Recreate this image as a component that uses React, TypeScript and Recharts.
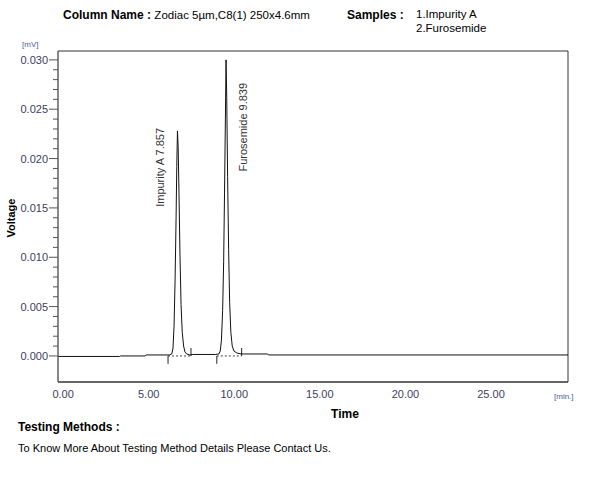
import {
  LineChart,
  Line,
  XAxis,
  YAxis,
  ReferenceLine,
  ReferenceArea,
  ReferenceDot,
} from "recharts";

const FONT = '"Liberation Sans", Arial, sans-serif';
const TICK_COLOR = "#404060";
const UNIT_COLOR = "#4a5a9a";

// axis ranges read from the frame
const X_MIN = -0.3;
const X_MAX = 29.5;
const Y_MIN = -0.00264;
const Y_MAX = 0.0309;

const X_TICKS = [0, 5, 10, 15, 20, 25];
const Y_MAJOR = [0, 0.005, 0.01, 0.015, 0.02, 0.025, 0.03];
const Y_MINOR = [
  0.001, 0.002, 0.003, 0.004, 0.006, 0.007, 0.008, 0.009, 0.011, 0.012,
  0.013, 0.014, 0.016, 0.017, 0.018, 0.019, 0.021, 0.022, 0.023, 0.024,
  0.026, 0.027, 0.028, 0.029,
];

// chromatogram trace, minutes / mV
const TIME_MIN = [
  -0.3, 3.3, 3.35, 4.8, 4.85, 6.2, 6.35, 6.42, 6.48, 6.54, 6.6, 6.64, 6.68,
  6.72, 6.77, 6.83, 6.89, 6.96, 7.04, 7.12, 7.22, 7.4, 7.6, 8.9, 9.1, 9.18,
  9.25, 9.32, 9.38, 9.43, 9.48, 9.52, 9.56, 9.61, 9.67, 9.73, 9.8, 9.88, 9.98,
  10.15, 10.4, 11.95, 12.0, 29.5,
];
const VOLTAGE_MV = [
  -0.00005, -0.00005, 0, 0, 0.0001, 0.0001, 0.0002, 0.0008, 0.003, 0.0075,
  0.014, 0.0192, 0.0228, 0.0212, 0.0165, 0.01, 0.0052, 0.0024, 0.001, 0.0004,
  0.0002, 0.0001, 0.00015, 0.00015, 0.0002, 0.0005, 0.0016, 0.0046, 0.0096,
  0.0165, 0.024, 0.03, 0.0262, 0.0182, 0.0108, 0.0054, 0.0024, 0.001, 0.0005,
  0.0003, 0.0002, 0.0002, 0.0001, 0.0001,
];

// peak table
const PEAK_NAMES = ["Impurity A", "Furosemide"];
const PEAK_RT = [7.857, 9.839];
const PEAK_APEX_TIME = [6.68, 9.52];
const PEAK_APEX_MV = [0.0228, 0.03];
const PEAK_START = [6.13, 8.98];
const PEAK_END = [7.47, 10.43];
const MARK_DEPTH = 0.0008;

const data = TIME_MIN.map((t, i) => ({ t, v: VOLTAGE_MV[i] }));
const yTicks = [...Y_MAJOR, ...Y_MINOR].sort((a, b) => a - b);

// label offsets from the apex, in px
const LABEL_OFFSET = [
  { dx: -13, dy: -3 },
  { dx: 21, dy: 23 },
];

function YTick(props: any) {
  const { x, y, payload } = props;
  const major = Y_MAJOR.includes(payload.value);
  return (
    <g>
      <line x1={x - (major ? 9 : 5)} x2={x} y1={y} y2={y} stroke="#555" />
      {major && (
        <text
          x={x - 10}
          y={y}
          dy="0.36em"
          textAnchor="end"
          fontSize={11}
          fontFamily={FONT}
          fill={TICK_COLOR}
        >
          {payload.value.toFixed(3)}
        </text>
      )}
    </g>
  );
}

function PeakLabel({ cx, cy, idx }: any) {
  const px = cx + LABEL_OFFSET[idx].dx;
  const py = cy + LABEL_OFFSET[idx].dy;
  return (
    <text
      x={px}
      y={py}
      transform={`rotate(-90 ${px} ${py})`}
      textAnchor="end"
      fontSize={11}
      fontFamily={FONT}
      fill="#333"
    >
      {`${PEAK_NAMES[idx]} ${PEAK_RT[idx].toFixed(3)}`}
    </text>
  );
}

const txt = (left: number, top: number, size: number, bold = false) => ({
  position: "absolute" as const,
  left,
  top,
  fontSize: size,
  fontWeight: bold ? 700 : 400,
  lineHeight: 1,
  whiteSpace: "nowrap" as const,
  color: "#000",
});

export default function App() {
  return (
    <div
      style={{
        position: "absolute",
        left: 0,
        top: 0,
        width: 600,
        height: 488,
        background: "#fff",
        fontFamily: FONT,
      }}
    >
      <LineChart
        width={600}
        height={488}
        data={data}
        margin={{ top: 51, right: 32, left: 0, bottom: 0 }}
      >
        <ReferenceArea
          x1={X_MIN}
          x2={X_MAX}
          y1={Y_MIN}
          y2={Y_MAX}
          fill="none"
          stroke="#333"
        />
        <XAxis
          dataKey="t"
          type="number"
          domain={[X_MIN, X_MAX]}
          allowDataOverflow
          ticks={X_TICKS}
          interval={0}
          height={106}
          tickLine={false}
          axisLine={{ stroke: "#333" }}
          tickFormatter={(v) => v.toFixed(2)}
          tick={{ fontSize: 11, fill: TICK_COLOR, fontFamily: FONT }}
        />
        <YAxis
          type="number"
          domain={[Y_MIN, Y_MAX]}
          allowDataOverflow
          ticks={yTicks}
          interval={0}
          width={58}
          tickSize={0}
          tickMargin={0}
          tickLine={false}
          axisLine={{ stroke: "#777" }}
          tick={<YTick />}
        />
        {PEAK_START.map((s, i) => (
          <ReferenceLine
            key={`base${i}`}
            segment={[
              { x: s, y: 0 },
              { x: PEAK_END[i], y: 0 },
            ]}
            stroke="#444"
            strokeDasharray="2 2"
          />
        ))}
        {PEAK_START.map((s, i) => (
          <ReferenceLine
            key={`st${i}`}
            segment={[
              { x: s, y: 0 },
              { x: s, y: -MARK_DEPTH },
            ]}
            stroke="#222"
          />
        ))}
        {PEAK_END.map((e, i) => (
          <ReferenceLine
            key={`en${i}`}
            segment={[
              { x: e, y: 0 },
              { x: e, y: MARK_DEPTH },
            ]}
            stroke="#222"
          />
        ))}
        <Line
          dataKey="v"
          type="linear"
          stroke="#111"
          strokeWidth={1}
          dot={false}
          isAnimationActive={false}
        />
        {PEAK_APEX_TIME.map((t, i) => (
          <ReferenceDot
            key={`lab${i}`}
            x={t}
            y={PEAK_APEX_MV[i]}
            r={0}
            shape={(p: any) => <PeakLabel cx={p.cx} cy={p.cy} idx={i} />}
          />
        ))}
      </LineChart>

      <div style={txt(63, 9, 12, true)}>
        Column Name :{" "}
        <span style={{ fontWeight: 400, fontSize: 11.5 }}>
          Zodiac 5µm,C8(1) 250x4.6mm
        </span>
      </div>
      <div style={txt(347, 9, 12, true)}>Samples :</div>
      <div style={txt(416, 9, 11.5)}>1.Impurity A</div>
      <div style={txt(416, 23, 11.5)}>2.Furosemide</div>

      <div style={{ ...txt(22, 41, 8), color: UNIT_COLOR }}>[mV]</div>
      <div style={{ ...txt(554, 393, 8), color: UNIT_COLOR }}>[min.]</div>

      <div
        style={{
          ...txt(11, 218, 11, true),
          transform: "translate(-50%, -50%) rotate(-90deg)",
        }}
      >
        Voltage
      </div>
      <div style={{ ...txt(345, 408, 12, true), transform: "translateX(-50%)" }}>
        Time
      </div>

      <div style={txt(18, 421, 12, true)}>Testing Methods :</div>
      <div style={txt(18, 443, 11)}>
        To Know More About Testing Method Details Please Contact Us.
      </div>
    </div>
  );
}
